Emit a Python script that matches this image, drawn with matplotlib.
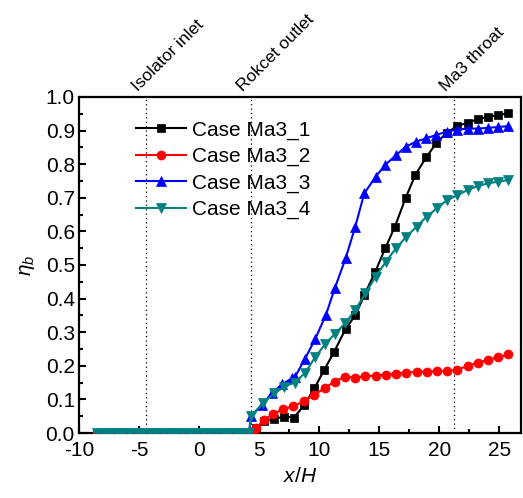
import matplotlib
matplotlib.use("Agg")
import matplotlib.pyplot as plt
from matplotlib.ticker import MultipleLocator, FormatStrFormatter

plt.rcParams['font.family'] = ['Liberation Sans', 'DejaVu Sans']
plt.rcParams['mathtext.fontset'] = 'custom'
plt.rcParams['mathtext.rm'] = 'Liberation Sans'
plt.rcParams['mathtext.it'] = 'Liberation Sans:italic'
plt.rcParams['axes.unicode_minus'] = False

# ---- data ----
x_base = [-8.5, -7.95, -7.4, -6.85, -6.3, -5.75, -5.2, -4.65, -4.1, -3.55, -3.0, -2.45,
          -1.9, -1.35, -0.8, -0.25, 0.3, 0.85, 1.4, 1.95, 2.5, 3.05, 3.6, 4.15]
y_base = [0.0] * 24

x_ma3_1 = [4.5, 4.75, 5.4, 6.25, 7.1, 7.9, 8.75, 9.6, 10.4, 11.25, 12.2, 13.0, 13.75, 14.67,
           15.5, 16.3, 17.2, 18.0, 18.9, 19.75, 20.6, 21.5, 22.35, 23.2, 24.05, 24.9, 25.75]
y_ma3_1 = [0.0, 0.015, 0.035, 0.042, 0.049, 0.046, 0.083, 0.133, 0.187, 0.242, 0.31, 0.35, 0.41,
           0.48, 0.55, 0.614, 0.70, 0.768, 0.82, 0.863, 0.893, 0.914, 0.923, 0.934, 0.941,
           0.946, 0.952]

x_ma3_2 = [4.55, 4.75, 5.4, 6.15, 6.95, 7.85, 8.75, 9.6, 10.45, 11.3, 12.15, 13.0, 13.85, 14.7,
           15.55, 16.4, 17.25, 18.1, 18.95, 19.8, 20.65, 21.5, 22.35, 23.2, 24.05, 24.9, 25.75]
y_ma3_2 = [0.005, 0.014, 0.039, 0.056, 0.07, 0.08, 0.095, 0.113, 0.134, 0.153, 0.168, 0.165,
           0.169, 0.171, 0.174, 0.176, 0.18, 0.182, 0.183, 0.184, 0.185, 0.188, 0.2, 0.209,
           0.218, 0.226, 0.234]

x_ma3_3 = [4.35, 5.2, 6.05, 6.9, 7.75, 8.0, 8.8, 9.67, 10.55, 11.3, 12.2, 13.0, 13.75, 14.7,
           15.5, 16.4, 17.2, 18.05, 18.9, 19.75, 20.6, 21.5, 22.35, 23.2, 24.05, 24.9, 25.75]
y_ma3_3 = [0.05, 0.083, 0.118, 0.145, 0.163, 0.168, 0.22, 0.28, 0.351, 0.431, 0.52, 0.614,
           0.713, 0.763, 0.798, 0.827, 0.852, 0.867, 0.877, 0.887, 0.897, 0.903, 0.906, 0.906,
           0.908, 0.911, 0.913]

x_ma3_4 = [4.3, 5.3, 6.25, 7.1, 7.95, 8.8, 9.65, 10.5, 11.3, 12.15, 13.0, 13.85, 14.7, 15.55,
           16.4, 17.25, 18.1, 18.95, 19.8, 20.65, 21.5, 22.35, 23.2, 24.05, 24.9, 25.75]
y_ma3_4 = [0.05, 0.088, 0.118, 0.138, 0.15, 0.178, 0.225, 0.265, 0.295, 0.326, 0.366, 0.416,
           0.465, 0.51, 0.55, 0.584, 0.614, 0.644, 0.669, 0.693, 0.708, 0.723, 0.735, 0.743,
           0.748, 0.753]

labels = ["Case Ma3_1", "Case Ma3_2", "Case Ma3_3", "Case Ma3_4"]
colors = ["black", "red", "blue", "#008080"]
markers = ["s", "o", "^", "v"]
msizes = [5.5, 6.5, 7, 7]

sections = [-4.4, 4.3, 21.25]
section_labels = ["Isolator inlet", "Rokcet outlet", "Ma3 throat"]

# ---- figure ----
fig = plt.figure(figsize=(5.23, 4.98), dpi=100)
ax = fig.add_axes([79/523, 65/498, 442/523, 336/498])

for xs in sections:
    ax.plot([xs, xs], [0, 1.0], color='black', ls=(0, (1, 2.5)), lw=0.9, zorder=1)

series = [(x_ma3_1, y_ma3_1), (x_ma3_2, y_ma3_2), (x_ma3_3, y_ma3_3), (x_ma3_4, y_ma3_4)]
for (xs, ys), lab, c, m, ms in zip(series, labels, colors, markers, msizes):
    ax.plot(x_base + xs, y_base + ys, color=c, marker=m, ms=ms, lw=1.5, label=lab,
            markeredgewidth=0.5, zorder=3)

ax.set_xlim(-10, 26.8)
ax.set_ylim(0, 1.0)
ax.xaxis.set_major_locator(MultipleLocator(5))
ax.xaxis.set_minor_locator(MultipleLocator(2.5))
ax.yaxis.set_major_locator(MultipleLocator(0.1))
ax.yaxis.set_minor_locator(MultipleLocator(0.05))
ax.yaxis.set_major_formatter(FormatStrFormatter('%.1f'))
ax.tick_params(which='both', direction='in', width=1.5, labelsize=15)
ax.tick_params(axis='x', pad=6)
ax.tick_params(axis='y', pad=3)
ax.tick_params(which='major', length=5)
ax.tick_params(which='minor', length=3)
for s in ax.spines.values():
    s.set_linewidth(1.6)

ax.set_xlabel(r'$\it{x/H}$', fontsize=15, labelpad=5)
ax.set_ylabel(r'$\eta_b$', fontsize=15, labelpad=6)

for xs, t in zip(sections, section_labels):
    ax.text(xs - 0.5, 1.01, t, rotation=45, rotation_mode='anchor', ha='left', va='bottom',
            fontsize=12.5, transform=ax.get_xaxis_transform(), clip_on=False)

leg = ax.legend(loc='upper left', bbox_to_anchor=(0.129, 0.93), frameon=False, fontsize=15,
                handlelength=2.4, handletextpad=0.3, labelspacing=0.35, borderpad=0,
                borderaxespad=0)

fig.savefig('out.png', dpi=100)
